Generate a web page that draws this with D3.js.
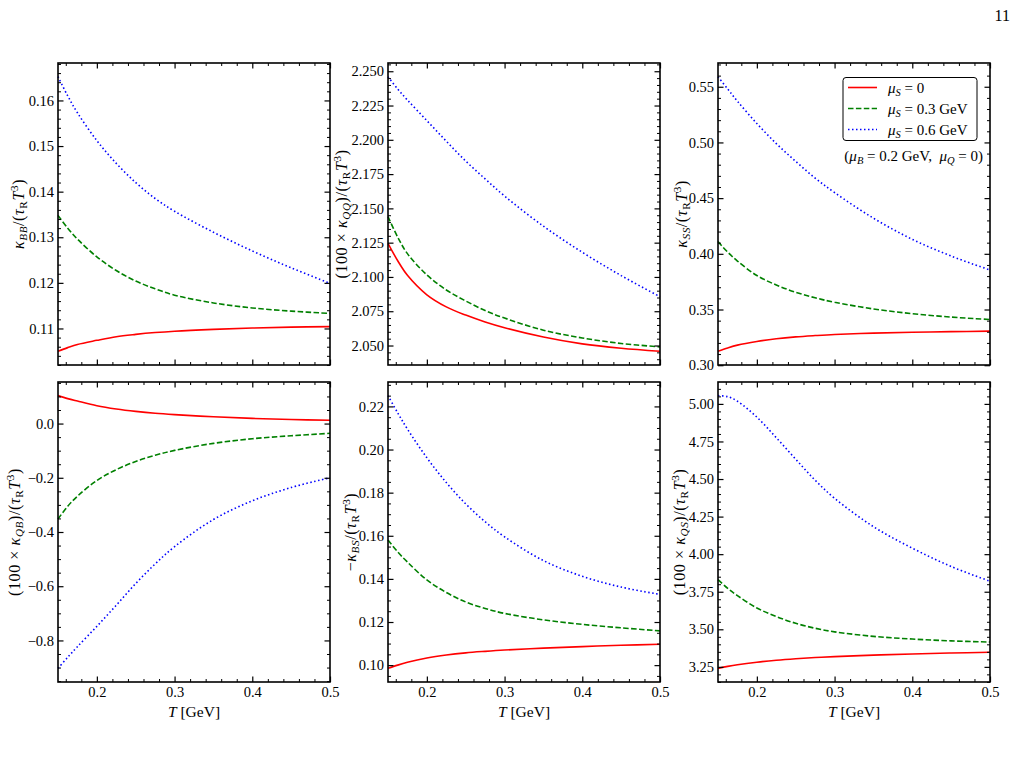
<!DOCTYPE html>
<html>
<head>
<meta charset="utf-8">
<script src="https://cdn.jsdelivr.net/npm/d3@7"></script>
<style>
body { margin: 0; background: #fff; }
text { font-family: "Liberation Serif", "DejaVu Serif", serif; fill: #000; white-space: pre; }
</style>
</head>
<body>
<svg width="1016" height="757"></svg>
<script>
// temperature grid (GeV)
const T = [0.15, 0.1625, 0.175, 0.2, 0.225, 0.25, 0.275, 0.3, 0.35, 0.4, 0.45, 0.5]

// kappa_BB
const bbS0 = [0.1050, 0.1058, 0.1065, 0.1074, 0.1082, 0.1087, 0.1091, 0.1094, 0.1098, 0.1101, 0.1103, 0.1104]
const bbS3 = [0.1348, 0.1320, 0.1296, 0.1257, 0.1227, 0.1204, 0.1187, 0.1173, 0.1156, 0.1145, 0.1138, 0.1133]
const bbS6 = [0.1652, 0.1610, 0.1573, 0.1512, 0.1462, 0.1420, 0.1385, 0.1357, 0.1311, 0.1270, 0.1233, 0.1199]
// 100 x kappa_QQ
const qqS0 = [2.1245, 2.1118, 2.1012, 2.0870, 2.0782, 2.0722, 2.0672, 2.0630, 2.0562, 2.0512, 2.0480, 2.0458]
const qqS3 = [2.1440, 2.1290, 2.1170, 2.1015, 2.0905, 2.0825, 2.0755, 2.0700, 2.0612, 2.0555, 2.0515, 2.0490]
const qqS6 = [2.2460, 2.2370, 2.2290, 2.2140, 2.1990, 2.1845, 2.1715, 2.1590, 2.1370, 2.1180, 2.1010, 2.0856]
// kappa_SS
const ssS0 = [0.3125, 0.3155, 0.3180, 0.3213, 0.3237, 0.3254, 0.3266, 0.3276, 0.3288, 0.3296, 0.3301, 0.3306]
const ssS3 = [0.4110, 0.4015, 0.3935, 0.3805, 0.3720, 0.3655, 0.3605, 0.3565, 0.3505, 0.3463, 0.3432, 0.3410]
const ssS6 = [0.5590, 0.5480, 0.5370, 0.5170, 0.4990, 0.4830, 0.4680, 0.4550, 0.4320, 0.4130, 0.3980, 0.3855]
// 100 x kappa_QB
const qbS0 = [0.103, 0.092, 0.083, 0.066, 0.054, 0.045, 0.038, 0.033, 0.025, 0.019, 0.015, 0.012]
const qbS3 = [-0.352, -0.305, -0.268, -0.210, -0.170, -0.140, -0.117, -0.099, -0.073, -0.056, -0.045, -0.036]
const qbS6 = [-0.903, -0.862, -0.823, -0.748, -0.670, -0.590, -0.518, -0.454, -0.354, -0.285, -0.236, -0.200]
// -kappa_BS
const bsS0 = [0.0985, 0.1000, 0.1013, 0.1033, 0.1047, 0.1057, 0.1064, 0.1070, 0.1079, 0.1086, 0.1092, 0.1097]
const bsS3 = [0.1580, 0.1525, 0.1478, 0.1395, 0.1337, 0.1293, 0.1263, 0.1240, 0.1210, 0.1189, 0.1173, 0.1159]
const bsS6 = [0.2250, 0.2170, 0.2095, 0.1962, 0.1847, 0.1748, 0.1665, 0.1595, 0.1485, 0.1412, 0.1362, 0.1328]
// 100 x kappa_QS
const qsS0 = [3.240, 3.253, 3.264, 3.281, 3.294, 3.304, 3.312, 3.318, 3.328, 3.336, 3.342, 3.347]
const qsS3 = [3.830, 3.772, 3.724, 3.642, 3.585, 3.540, 3.507, 3.483, 3.453, 3.435, 3.423, 3.415]
const qsS6 = [5.055, 5.048, 5.018, 4.912, 4.775, 4.632, 4.492, 4.372, 4.183, 4.040, 3.918, 3.820]

// tick labels
const xTicks = [0.2, 0.3, 0.4, 0.5]
const bbTicks = [0.11, 0.12, 0.13, 0.14, 0.15, 0.16]
const qqTicks = [2.050, 2.075, 2.100, 2.125, 2.150, 2.175, 2.200, 2.225, 2.250]
const ssTicks = [0.30, 0.35, 0.40, 0.45, 0.50, 0.55]
const qbTicks = [-0.8, -0.6, -0.4, -0.2, 0.0]
const bsTicks = [0.10, 0.12, 0.14, 0.16, 0.18, 0.20, 0.22]
const qsTicks = [3.25, 3.50, 3.75, 4.00, 4.25, 4.50, 4.75, 5.00]

// legend
const seriesMu = ["0", "0.3 GeV", "0.6 GeV"]
const seriesColors = ["#ff0000", "#008000", "#0000ff"]
const seriesDash = [null, "5.5,2.4", "1.5,2.5"]

const tail = [["/(", "r"], ["τ", "i"], ["R", "sr"], ["T", "i"], ["3", "p"], [")", "r"]]
const bbLabel = [["κ", "i"], ["BB", "si"]].concat(tail)
const qqLabel = [["(100 × ", "r"], ["κ", "i"], ["QQ", "si"], [")", "r"]].concat(tail)
const ssLabel = [["κ", "i"], ["SS", "si"]].concat(tail)
const qbLabel = [["(100 × ", "r"], ["κ", "i"], ["QB", "si"], [")", "r"]].concat(tail)
const bsLabel = [["−", "r"], ["κ", "i"], ["BS", "si"]].concat(tail)
const qsLabel = [["(100 × ", "r"], ["κ", "i"], ["QS", "si"], [")", "r"]].concat(tail)

const panels = [
  { s: [bbS0, bbS3, bbS6], major: bbTicks, minor: 0.002, fmt: ".2f", label: bbLabel, col: 0, row: 0, lx: 19 },
  { s: [qqS0, qqS3, qqS6], major: qqTicks, minor: 0.005, fmt: ".3f", label: qqLabel, col: 1, row: 0, lx: 342 },
  { s: [ssS0, ssS3, ssS6], major: ssTicks, minor: 0.01, fmt: ".2f", label: ssLabel, col: 2, row: 0, lx: 682 },
  { s: [qbS0, qbS3, qbS6], major: qbTicks, minor: 0.05, fmt: ".1f", label: qbLabel, col: 0, row: 1, lx: 15 },
  { s: [bsS0, bsS3, bsS6], major: bsTicks, minor: 0.005, fmt: ".2f", label: bsLabel, col: 1, row: 1, lx: 351 },
  { s: [qsS0, qsS3, qsS6], major: qsTicks, minor: 0.05, fmt: ".2f", label: qsLabel, col: 2, row: 1, lx: 680 }
]

const colLeft = [58, 388, 718]
const rowTop = [63, 382]
const rowH = [302, 300]
const W = 272
const fs = 14.5
const lfs = 16

const svg = d3.select("svg")

function mathText(sel, segs, size) {
  let shift = 0
  segs.forEach(([str, k]) => {
    const sub = k === "si" || k === "sr", sup = k === "p"
    const target = sub ? 0.2 * size : sup ? -0.38 * size : 0
    sel.append("tspan")
      .attr("dy", target - shift)
      .attr("font-size", (sub || sup) ? size * 0.7 : size)
      .attr("font-style", (k === "i" || k === "si") ? "italic" : "normal")
      .text(str)
    shift = target
  })
}

function minorRange(d, step) {
  const lo = Math.min(d[0], d[1]), hi = Math.max(d[0], d[1])
  return d3.range(Math.ceil(lo / step - 1e-6), Math.floor(hi / step + 1e-6) + 1).map(i => +(i * step).toFixed(6))
}

panels.forEach(p => {
  const left = colLeft[p.col], top = rowTop[p.row], h = rowH[p.row]
  const x = d3.scaleLinear().domain([0.15, 0.5]).range([left, left + W])
  const ext = d3.extent(p.s.flat())
  const pad = (ext[1] - ext[0]) * 0.05
  const y = d3.scaleLinear().domain([ext[0] - pad, ext[1] + pad]).range([top + h, top])
  const g = svg.append("g")

  // curves
  const line = d3.line().x((d, i) => x(T[i])).y(d => y(d)).curve(d3.curveCatmullRom.alpha(0.5))
  p.s.forEach((vals, k) => {
    g.append("path")
      .attr("d", line(vals))
      .attr("fill", "none")
      .attr("stroke", seriesColors[k])
      .attr("stroke-width", 1.6)
      .attr("stroke-dasharray", seriesDash[k])
  })

  // ticks on all four sides, pointing inward
  const xMinor = minorRange(x.domain(), 0.02).filter(v => xTicks.indexOf(v) < 0)
  const yMinor = minorRange(y.domain(), p.minor).filter(v => !p.major.some(m => Math.abs(m - v) < 1e-9))

  const sides = [
    [d3.axisBottom, x, top + h, 0], [d3.axisTop, x, top, 0],
    [d3.axisLeft, y, 0, left], [d3.axisRight, y, 0, left + W]
  ]
  sides.forEach(([mk, sc, ty, tx], j) => {
    const isX = j < 2
    const maj = mk(sc).tickValues(isX ? xTicks : p.major).tickSizeInner(-5.5).tickSizeOuter(0).tickPadding(4)
    if (j === 0 && p.row === 1) maj.tickFormat(d3.format(".1f")).tickPadding(5)
    else if (j === 2) maj.tickFormat(d3.format(p.fmt))
    else maj.tickFormat("")
    const a = g.append("g").attr("transform", `translate(${tx},${ty})`).call(maj)
    a.select(".domain").remove()
    a.selectAll("line").attr("stroke-width", 1.2)
    a.selectAll("text").attr("font-size", fs).attr("font-family", null)

    const mn = mk(sc).tickValues(isX ? xMinor : yMinor).tickSizeInner(-3).tickSizeOuter(0).tickFormat("")
    const b = g.append("g").attr("transform", `translate(${tx},${ty})`).call(mn)
    b.select(".domain").remove()
    b.selectAll("line").attr("stroke-width", 1)
  })

  // frame
  g.append("rect")
    .attr("x", left).attr("y", top).attr("width", W).attr("height", h)
    .attr("fill", "none").attr("stroke", "#000").attr("stroke-width", 1.6)

  // y label
  const yl = g.append("text")
    .attr("transform", `translate(${p.lx + 5},${top + h / 2}) rotate(-90)`)
    .attr("text-anchor", "middle")
    .attr("font-size", lfs)
    .attr("letter-spacing", 0.6)
  mathText(yl, p.label, lfs)

  // x label
  if (p.row === 1) {
    const xl = g.append("text")
      .attr("x", left + W / 2).attr("y", 717)
      .attr("text-anchor", "middle").attr("font-size", 15.5)
    mathText(xl, [["T", "i"], [" [GeV]", "r"]], 15.5)
  }
})

// legend inside the top right panel
const leg = svg.append("g")
leg.append("rect")
  .attr("x", 843).attr("y", 77.5).attr("width", 134).attr("height", 63)
  .attr("rx", 3).attr("fill", "#fff").attr("stroke", "#000").attr("stroke-width", 1)
seriesMu.forEach((mu, k) => {
  const yy = 87.5 + k * 21
  leg.append("line")
    .attr("x1", 848).attr("x2", 877).attr("y1", yy).attr("y2", yy)
    .attr("stroke", seriesColors[k]).attr("stroke-width", 1.6)
    .attr("stroke-dasharray", seriesDash[k])
  const t = leg.append("text").attr("x", 888).attr("y", yy + 5).attr("font-size", 15)
  mathText(t, [["μ", "i"], ["S", "si"], [" = " + mu, "r"]], 15)
})
const note = svg.append("text").attr("x", 983).attr("y", 161).attr("text-anchor", "end").attr("font-size", 15)
mathText(note, [["(", "r"], ["μ", "i"], ["B", "si"], [" = 0.2 GeV,  ", "r"], ["μ", "i"], ["Q", "si"], [" = 0)", "r"]], 15)

// page number
svg.append("text").attr("x", 1010).attr("y", 21).attr("text-anchor", "end").attr("font-size", 16).text("11")
</script>
</body>
</html>
